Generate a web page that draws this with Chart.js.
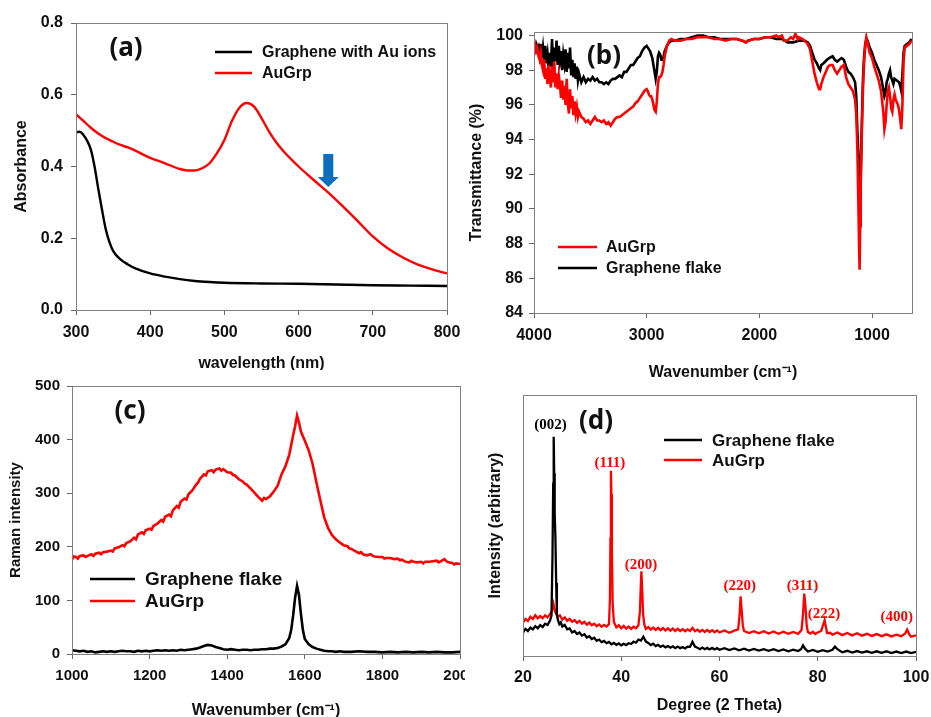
<!DOCTYPE html>
<html>
<head>
<meta charset="utf-8">
<script src="https://cdn.jsdelivr.net/npm/chart.js@4.4.1/dist/chart.umd.min.js"></script>
<style>
html, body { margin: 0; padding: 0; background: #fff; overflow: hidden; width: 931px; height: 717px; }
canvas { position: absolute; background: #fff; }
</style>
</head>
<body>
<canvas id="pa" width="465" height="376" style="left:0;top:0"></canvas>
<canvas id="pb" width="466" height="390" style="left:465px;top:0"></canvas>
<canvas id="pc" width="465" height="360" style="left:0;top:370px"></canvas>
<canvas id="pd" width="466" height="327" style="left:465px;top:390px"></canvas>
<script>
// (a) UV-vis absorbance, [wavelength nm, absorbance]
const aGraphene = [[300,0.495],[305,0.497],[310,0.488],[315,0.472],[320,0.447],[325,0.400],[330,0.338],[335,0.280],[340,0.226],[345,0.190],[350,0.165],[360,0.141],[370,0.127],[380,0.116],[400,0.102],[420,0.093],[440,0.086],[460,0.081],[480,0.078],[500,0.076],[550,0.074],[600,0.073],[650,0.071],[700,0.069],[750,0.068],[800,0.067]];
const aAuGrp = [[300,0.546],[310,0.527],[320,0.508],[330,0.492],[340,0.479],[350,0.469],[360,0.460],[370,0.453],[380,0.444],[400,0.424],[420,0.409],[440,0.393],[450,0.389],[460,0.389],[470,0.395],[480,0.409],[490,0.437],[500,0.474],[510,0.526],[520,0.563],[530,0.577],[540,0.567],[550,0.535],[560,0.498],[570,0.467],[580,0.442],[600,0.400],[620,0.363],[640,0.327],[660,0.288],[680,0.247],[700,0.205],[720,0.172],[740,0.147],[760,0.127],[780,0.113],[800,0.102]];
const aXTicks = [300, 400, 500, 600, 700, 800];
const aYTicks = [0, 0.2, 0.4, 0.6, 0.8];
const aArrow = { x: 640, top: 0.435, base: 0.371, tip: 0.343 };

// (b) FTIR transmittance, [wavenumber, %]
const bGraphene = [[4000,99.6],[3990,99.2],[3980,99.5],[3970,99.3],[3960,99.4],[3950,98.9],[3940,99.5],[3930,98.7],[3920,99.3],[3910,98.6],[3900,99.4],[3890,98.4],[3880,98.9],[3870,98.0],[3860,99.0],[3850,98.2],[3840,99.8],[3830,98.1],[3820,99.3],[3810,98.5],[3800,99.7],[3790,98.3],[3780,99.4],[3770,98.6],[3760,99.1],[3750,98.0],[3740,98.9],[3730,98.4],[3720,99.2],[3710,97.9],[3700,99.0],[3690,98.1],[3680,99.3],[3670,97.7],[3660,98.6],[3650,97.6],[3640,98.4],[3630,97.5],[3620,98.2],[3610,97.4],[3600,97.8],[3580,97.3],[3560,97.6],[3540,97.3],[3520,97.5],[3500,97.4],[3480,97.6],[3460,97.4],[3440,97.5],[3420,97.3],[3400,97.3],[3380,97.2],[3360,97.3],[3340,97.2],[3320,97.4],[3300,97.5],[3280,97.5],[3260,97.6],[3240,97.7],[3220,97.6],[3200,97.9],[3180,97.9],[3160,98.1],[3140,98.3],[3120,98.3],[3100,98.5],[3080,98.7],[3060,98.8],[3040,99.1],[3020,99.3],[3000,99.4],[2990,99.3],[2980,99.2],[2970,99.1],[2960,98.9],[2950,98.7],[2940,98.3],[2930,97.9],[2920,97.5],[2910,97.9],[2900,98.8],[2890,99.0],[2880,98.9],[2870,98.6],[2860,98.6],[2850,98.8],[2840,99.1],[2820,99.4],[2800,99.6],[2780,99.7],[2750,99.7],[2700,99.8],[2650,99.8],[2600,99.9],[2550,100.0],[2500,100.0],[2450,99.9],[2400,99.9],[2350,99.8],[2300,99.8],[2250,99.8],[2200,99.8],[2150,99.7],[2120,99.6],[2100,99.7],[2050,99.8],[2000,99.8],[1950,99.9],[1900,99.9],[1850,99.8],[1800,99.8],[1750,99.6],[1700,99.6],[1650,99.7],[1600,99.7],[1570,99.6],[1550,99.4],[1530,99.0],[1510,98.6],[1490,98.4],[1470,98.1],[1460,98.0],[1450,98.3],[1430,98.4],[1400,98.6],[1380,98.7],[1350,98.8],[1330,98.6],[1310,98.5],[1290,98.6],[1270,98.7],[1250,98.6],[1230,98.2],[1210,97.9],[1190,97.8],[1170,97.6],[1150,97.3],[1140,96.5],[1130,94.5],[1120,93.0],[1110,91.5],[1105,90.9],[1100,92.0],[1090,95.0],[1080,97.5],[1070,98.8],[1060,99.5],[1050,99.8],[1040,99.7],[1020,99.3],[1000,99.0],[980,98.6],[960,98.3],[940,98.0],[920,97.6],[900,96.9],[890,96.5],[880,96.7],[870,97.3],[860,97.5],[850,97.8],[840,98.0],[830,97.6],[820,97.4],[810,97.2],[800,97.5],[780,97.4],[760,97.3],[750,97.1],[740,96.8],[730,97.8],[720,99.0],[710,99.4],[690,99.5],[670,99.6],[650,99.8]];
const bAuGrp = [[4000,99.8],[3990,99.4],[3980,99.1],[3970,99.3],[3960,98.8],[3950,98.6],[3940,99.0],[3930,98.3],[3920,98.0],[3910,98.6],[3900,97.5],[3890,98.1],[3880,97.2],[3870,98.3],[3860,97.6],[3850,97.0],[3840,98.2],[3830,97.3],[3820,98.5],[3810,97.0],[3800,97.8],[3790,96.9],[3780,97.7],[3770,97.2],[3760,96.4],[3750,97.4],[3740,96.3],[3730,97.1],[3720,96.0],[3710,97.5],[3700,96.1],[3690,95.5],[3680,96.9],[3670,95.8],[3660,96.5],[3650,95.4],[3640,96.2],[3630,95.5],[3620,95.9],[3610,95.3],[3600,95.6],[3580,95.3],[3560,95.2],[3540,95.0],[3520,95.1],[3500,94.9],[3480,95.1],[3460,95.3],[3440,95.1],[3420,95.1],[3400,95.0],[3380,95.1],[3360,94.9],[3340,95.0],[3320,94.8],[3300,95.0],[3280,95.2],[3260,95.3],[3240,95.3],[3220,95.4],[3200,95.5],[3180,95.6],[3160,95.7],[3140,95.8],[3120,95.9],[3100,96.1],[3080,96.2],[3060,96.4],[3040,96.6],[3020,96.8],[3000,96.9],[2990,96.8],[2980,96.6],[2970,96.5],[2960,96.5],[2950,96.3],[2940,96.0],[2930,95.7],[2920,95.6],[2910,96.2],[2900,97.2],[2890,97.6],[2880,97.6],[2870,97.7],[2860,97.9],[2850,98.3],[2840,98.8],[2820,99.4],[2800,99.7],[2780,99.8],[2750,99.7],[2700,99.7],[2650,99.8],[2600,99.8],[2550,99.9],[2500,99.9],[2450,99.9],[2400,99.8],[2350,99.8],[2300,99.7],[2250,99.8],[2200,99.8],[2150,99.7],[2120,99.6],[2100,99.7],[2050,99.8],[2000,99.8],[1950,99.9],[1900,99.9],[1850,100.0],[1830,99.9],[1800,100.0],[1780,99.7],[1750,99.7],[1720,99.9],[1700,99.8],[1680,100.1],[1660,99.8],[1650,99.9],[1620,99.8],[1600,99.7],[1570,99.5],[1550,99.2],[1530,98.5],[1510,97.8],[1490,97.3],[1470,96.9],[1460,96.9],[1450,97.2],[1430,97.6],[1410,97.9],[1390,98.2],[1370,98.3],[1350,98.3],[1330,98.0],[1310,97.8],[1290,98.0],[1270,98.2],[1250,98.3],[1230,97.6],[1210,97.2],[1190,97.0],[1170,96.8],[1150,96.3],[1140,95.5],[1130,93.5],[1120,90.0],[1115,88.0],[1110,86.5],[1105,89.0],[1100,91.5],[1090,94.5],[1080,97.0],[1070,98.5],[1060,99.4],[1050,99.9],[1040,99.6],[1020,99.0],[1000,98.7],[980,98.2],[960,97.8],[940,97.4],[920,96.8],[900,95.6],[890,94.6],[880,95.0],[870,96.0],[860,96.8],[850,97.0],[840,96.5],[830,95.8],[820,95.6],[810,96.3],[800,96.6],[790,96.3],[770,96.0],[760,95.7],[750,95.2],[740,94.6],[730,96.0],[720,98.5],[710,99.3],[690,99.4],[670,99.5],[650,99.7]];
const bXTicks = [4000, 3000, 2000, 1000];
const bYTicks = [84, 86, 88, 90, 92, 94, 96, 98, 100];

// (c) Raman, [wavenumber, intensity]
const cGraphene = [[1000,7],[1010,6],[1020,5],[1030,6],[1040,4],[1050,5],[1060,3],[1070,4],[1080,5],[1090,4],[1100,5],[1110,4],[1120,5],[1130,6],[1140,5],[1150,5],[1160,4],[1170,6],[1180,5],[1190,6],[1200,5],[1210,6],[1220,7],[1230,6],[1240,7],[1250,6],[1260,7],[1270,6],[1280,8],[1290,7],[1300,8],[1310,9],[1320,10],[1330,12],[1340,15],[1350,17],[1360,16],[1370,13],[1380,11],[1390,9],[1400,8],[1410,9],[1420,8],[1430,7],[1440,8],[1450,8],[1460,7],[1470,8],[1480,8],[1490,9],[1500,9],[1510,10],[1520,10],[1530,11],[1540,14],[1550,18],[1560,30],[1565,45],[1570,72],[1575,105],[1580,127],[1585,110],[1590,75],[1595,45],[1600,28],[1610,18],[1620,13],[1630,10],[1640,8],[1650,6],[1660,5],[1670,5],[1680,4],[1690,5],[1700,4],[1720,4],[1740,5],[1760,4],[1780,4],[1800,3],[1820,4],[1840,3],[1860,4],[1880,3],[1900,4],[1920,3],[1940,4],[1960,3],[1980,3],[2000,4]];
const cAuGrp = [[1000,176],[1005,182],[1010,181],[1015,178],[1020,183],[1030,184],[1035,181],[1040,183],[1050,186],[1055,183],[1060,187],[1070,189],[1075,186],[1080,190],[1090,191],[1100,193],[1105,191],[1110,197],[1120,199],[1130,203],[1135,201],[1140,207],[1150,210],[1160,217],[1165,214],[1170,223],[1180,227],[1185,224],[1190,231],[1200,234],[1205,232],[1210,239],[1220,243],[1230,250],[1235,247],[1240,256],[1250,260],[1255,257],[1260,268],[1270,276],[1275,273],[1280,284],[1290,290],[1295,288],[1300,298],[1310,305],[1320,316],[1325,320],[1330,327],[1340,335],[1345,333],[1350,341],[1360,343],[1365,339],[1370,344],[1380,346],[1385,342],[1390,345],[1400,339],[1410,338],[1415,334],[1420,333],[1430,326],[1440,322],[1445,318],[1450,316],[1460,309],[1470,301],[1475,297],[1480,293],[1490,286],[1495,291],[1500,289],[1510,294],[1520,303],[1530,314],[1540,335],[1550,350],[1560,372],[1570,408],[1575,425],[1580,445],[1585,432],[1590,415],[1600,398],[1610,380],[1620,355],[1630,320],[1640,287],[1650,255],[1660,235],[1670,222],[1680,214],[1690,208],[1700,203],[1710,201],[1715,197],[1720,196],[1730,192],[1740,188],[1745,190],[1750,186],[1760,184],[1770,186],[1775,183],[1780,182],[1790,181],[1800,181],[1805,178],[1810,179],[1820,179],[1830,177],[1840,178],[1845,175],[1850,176],[1860,172],[1870,171],[1875,174],[1880,172],[1890,171],[1900,172],[1905,169],[1910,172],[1920,172],[1930,173],[1940,174],[1945,171],[1950,173],[1960,177],[1965,173],[1970,171],[1980,170],[1985,167],[1990,169],[2000,168]];
const cXTicks = [1000, 1200, 1400, 1600, 1800, 2000];
const cYTicks = [0, 100, 200, 300, 400, 500];

// (d) XRD, [2 theta, intensity in arbitrary units 0-100]
const dGraphene = [[20,9.0],[20.5,10.4],[21,9.6],[21.5,10.9],[22,10.2],[22.5,11.4],[23,10.6],[23.5,11.8],[24,11.1],[24.5,12.4],[25,11.9],[25.5,13.6],[25.8,15.5],[26,38],[26.15,66],[26.25,84],[26.35,70],[26.45,55],[26.6,45],[26.75,28],[26.9,16],[27.1,13.8],[27.4,12.2],[27.7,12.9],[28,11.3],[28.5,11.9],[29,10.2],[29.5,10.6],[30,9.0],[30.5,9.6],[31,8.4],[31.5,9.0],[32,7.8],[32.5,8.3],[33,7.1],[33.5,7.6],[34,6.5],[34.5,7.0],[35,5.8],[35.5,6.3],[36,5.3],[36.5,5.8],[37,4.9],[37.5,5.4],[38,4.5],[38.5,5.0],[39,4.3],[39.5,4.8],[40,4.1],[40.5,4.7],[41,4.2],[41.5,4.9],[42,4.6],[42.5,5.5],[43,5.1],[43.5,6.3],[44,5.9],[44.5,7.4],[45,5.6],[45.5,5.0],[46,4.2],[46.5,4.7],[47,3.8],[47.5,4.3],[48,3.5],[48.5,4.0],[49,3.3],[49.5,3.8],[50,3.2],[50.5,3.7],[51,3.0],[51.5,3.6],[52,3.0],[52.5,3.4],[53,2.9],[53.5,3.6],[54,3.5],[54.5,5.4],[55,3.6],[55.5,3.2],[56,2.6],[56.5,3.2],[57,2.6],[57.5,3.1],[58,2.5],[58.5,3.1],[59,2.5],[59.5,3.0],[60,2.4],[61,3.0],[62,2.3],[63,2.9],[64,2.2],[65,2.8],[66,2.1],[67,2.7],[68,2.1],[69,2.6],[70,2.0],[71,2.6],[72,1.9],[73,2.5],[74,1.8],[75,2.4],[76,1.9],[76.6,2.6],[77,4.1],[77.4,2.8],[78,1.7],[79,2.3],[80,1.6],[81,2.2],[82,1.7],[83,2.4],[83.5,3.6],[84,2.6],[85,1.4],[86,2.0],[87,1.3],[88,1.9],[89,1.3],[90,1.8],[91,1.2],[92,1.8],[93,1.2],[94,1.8],[95,1.1],[96,1.7],[97,1.1],[98,1.7],[99,1.1],[100,1.6]];
const dAuGrp = [[20,12.8],[20.5,14.2],[21,13.4],[21.5,15.0],[22,14.2],[22.5,15.6],[23,14.4],[23.5,15.3],[24,14.5],[24.5,15.6],[25,14.8],[25.5,16.0],[25.9,17.4],[26.2,20.0],[26.5,17.2],[26.8,16.0],[27,15.0],[27.5,15.6],[28,14.0],[28.5,14.8],[29,13.5],[29.5,14.2],[30,13.1],[30.5,13.8],[31,12.7],[31.5,13.5],[32,12.4],[32.5,13.1],[33,12.0],[33.5,12.8],[34,11.8],[34.5,12.4],[35,11.4],[35.5,12.1],[36,11.2],[36.5,11.9],[37,11.3],[37.5,12.2],[37.7,22],[37.8,45],[37.9,71],[38.0,62],[38.1,40],[38.25,20],[38.5,13.0],[39,11.0],[39.5,11.8],[40,10.6],[40.5,11.5],[41,10.5],[41.5,11.3],[42,10.4],[42.5,11.2],[43,10.6],[43.5,11.8],[43.8,17],[44.0,28],[44.1,32.5],[44.25,26],[44.45,16],[44.7,12],[45,10.4],[45.5,11.1],[46,10.1],[46.5,10.9],[47,10.0],[47.5,10.8],[48,9.9],[48.5,10.7],[49,9.8],[49.5,10.6],[50,9.7],[50.5,10.5],[51,9.6],[51.5,10.4],[52,9.6],[52.5,10.3],[53,9.5],[53.5,10.2],[54,9.6],[54.5,10.8],[55,9.5],[55.5,10.1],[56,9.3],[56.5,10.0],[57,9.2],[57.5,10.0],[58,9.2],[58.5,9.9],[59,9.1],[59.5,9.8],[60,9.0],[61,9.8],[62,8.9],[63,9.7],[63.8,10.2],[64.1,16],[64.3,22.9],[64.5,18],[64.75,11.5],[65,9.6],[66,8.8],[67,9.5],[68,8.7],[69,9.5],[70,8.6],[71,9.4],[72,8.5],[73,9.3],[74,8.5],[75,9.2],[76,8.5],[76.7,10.0],[77.0,16],[77.25,23.9],[77.5,19],[77.75,11.5],[78,9.2],[78.5,8.6],[79,9.3],[79.5,8.4],[80,9.0],[80.7,9.6],[81.2,12.5],[81.4,13.7],[81.6,11.8],[81.9,8.8],[82.5,8.9],[83,8.2],[84,9.0],[85,8.0],[86,8.8],[87,7.9],[88,8.7],[89,7.8],[90,8.5],[91,7.7],[92,8.4],[93,7.6],[94,8.3],[95,7.5],[96,8.2],[97,7.6],[97.8,8.6],[98.2,10.1],[98.6,8.4],[99,7.4],[100,7.9]];
const dXTicks = [20, 40, 60, 80, 100];
const dPeakLabels = ['(002)', '(111)', '(200)', '(220)', '(311)', '(222)', '(400)'];
const dPeakX = [25.6, 37.7, 44.0, 64.1, 76.9, 81.25, 96.1];
const dPeakY = [88.5, 74, 34.8, 26.7, 26.7, 15.9, 15];
const dPeakColors = ['#000', 'red', 'red', 'red', 'red', 'red', 'red'];

const FONT = '"Liberation Sans", Arial, sans-serif';
const RED = '#ff0000', BLACK = '#000000';

const extras = {
  id: 'extras',
  afterDraw(chart, args, o) {
    const {ctx, chartArea: ca} = chart;
    ctx.save();
    // frame
    ctx.strokeStyle = '#808080';
    ctx.lineWidth = 1;
    ctx.strokeRect(Math.round(ca.left) + 0.5, Math.round(ca.top) + 0.5, Math.round(ca.right - ca.left), Math.round(ca.bottom - ca.top));
    // panel letter
    ctx.fillStyle = '#111';
    ctx.font = 'bold 26px "Noto Sans", "Open Sans", sans-serif';
    ctx.textAlign = 'center';
    ctx.textBaseline = 'middle';
    ctx.fillText(o.letter, ca.left + o.letterX, ca.top + o.letterY);
    // legend inside the plot
    const lg = o.legend;
    ctx.font = 'bold ' + lg.size + 'px ' + FONT;
    ctx.textAlign = 'left';
    lg.order.forEach((i, k) => {
      const ds = chart.data.datasets[i];
      const x = ca.left + lg.x, y = ca.top + lg.y + k * lg.rowH;
      ctx.strokeStyle = ds.borderColor;
      ctx.lineWidth = 2.5;
      ctx.beginPath();
      ctx.moveTo(x, y);
      ctx.lineTo(x + lg.len, y);
      ctx.stroke();
      ctx.fillStyle = '#111';
      ctx.fillText(ds.label, x + lg.len + lg.gap, y + 1);
    });
    ctx.restore();
  }
};

const arrow = {
  id: 'arrow',
  afterDatasetsDraw(chart, args, o) {
    if (!o.at) return;
    const {ctx, scales: {x, y}} = chart;
    const cx = x.getPixelForValue(o.at.x);
    const yt = y.getPixelForValue(o.at.top), yb = y.getPixelForValue(o.at.base), yp = y.getPixelForValue(o.at.tip);
    ctx.save();
    ctx.fillStyle = '#0a6fc2';
    ctx.beginPath();
    ctx.moveTo(cx - 5, yt); ctx.lineTo(cx + 5, yt); ctx.lineTo(cx + 5, yb);
    ctx.lineTo(cx + 10.5, yb); ctx.lineTo(cx, yp); ctx.lineTo(cx - 10.5, yb);
    ctx.lineTo(cx - 5, yb); ctx.closePath();
    ctx.fill();
    ctx.restore();
  }
};

const peaks = {
  id: 'peaks',
  afterDatasetsDraw(chart, args, o) {
    if (!o.labels) return;
    const {ctx, scales: {x, y}} = chart;
    ctx.save();
    ctx.font = 'bold 15px "Liberation Serif", "Times New Roman", serif';
    ctx.textAlign = 'center';
    ctx.textBaseline = 'middle';
    o.labels.forEach((t, i) => {
      ctx.fillStyle = o.colors[i];
      ctx.fillText(t, x.getPixelForValue(o.xs[i]), y.getPixelForValue(o.ys[i]));
    });
    ctx.restore();
  }
};

function axis(o) {
  const hasTicks = o.ticks.length > 0;
  return {
    type: 'linear', min: o.min, max: o.max, reverse: !!o.reverse,
    afterBuildTicks: s => { s.ticks = o.ticks.map(v => ({value: v})); },
    afterFit: s => {
      if (o.w) s.width = o.w;
      if (o.h) s.height = o.h;
      // keep the plot box where the layout padding puts it
      s.paddingLeft = s.paddingRight = s.paddingTop = s.paddingBottom = 0;
    },
    ticks: {
      display: hasTicks, autoSkip: false, maxRotation: 0, padding: o.pad, color: '#111',
      font: {family: FONT, size: o.fs, weight: 'bold'},
      callback: o.fmt || (v => String(v))
    },
    grid: {drawOnChartArea: false, drawTicks: hasTicks, tickLength: 5, color: '#666'},
    border: {display: false},
    title: {
      display: true, text: o.title, color: '#111',
      font: {family: FONT, size: o.tfs, weight: 'bold'},
      padding: {top: o.tpad, bottom: o.tpad}
    }
  };
}

function series(label, pts, color, width, smooth) {
  return {
    label: label,
    data: pts.map(p => ({x: p[0], y: p[1]})),
    borderColor: color, borderWidth: width, pointRadius: 0,
    tension: smooth ? 0.4 : 0, cubicInterpolationMode: smooth ? 'monotone' : 'default'
  };
}

function panel(id, datasets, x, y, padding, plug) {
  return new Chart(document.getElementById(id), {
    type: 'line',
    data: {datasets: datasets},
    options: {
      responsive: false, animation: false, devicePixelRatio: 1,
      layout: {padding: padding},
      scales: {x: axis(x), y: axis(y)},
      plugins: Object.assign({legend: {display: false}, tooltip: {enabled: false}}, plug)
    },
    plugins: [extras, arrow, peaks]
  });
}

panel('pa',
  [series('Graphene with Au ions', aGraphene, BLACK, 2.4, true), series('AuGrp', aAuGrp, RED, 2.4, true)],
  {min: 300, max: 800, ticks: aXTicks, fs: 16, pad: 8, h: 66, title: 'wavelength (nm)', tfs: 16, tpad: 3},
  {min: 0, max: 0.8, ticks: aYTicks, fs: 16, pad: 8, w: 76, title: 'Absorbance', tfs: 16, tpad: 12, fmt: v => v.toFixed(1)},
  {top: 23, right: 18, left: 0, bottom: 0},
  {extras: {letter: '(a)', letterX: 50, letterY: 26, legend: {order: [0, 1], x: 139, y: 29, rowH: 21, len: 37, gap: 10, size: 16}},
   arrow: {at: aArrow}});

panel('pb',
  [series('AuGrp', bAuGrp, RED, 2.6, false), series('Graphene flake', bGraphene, BLACK, 2.6, false)],
  {min: 645, max: 4000, reverse: true, ticks: bXTicks, fs: 16, pad: 8, h: 77, title: 'Wavenumber (cm\u207B\u00B9)', tfs: 16, tpad: 8},
  {min: 84, max: 100.2, ticks: bYTicks, fs: 16, pad: 6, w: 69, title: 'Transmittance (%)', tfs: 16, tpad: 2},
  {top: 32, right: 19, left: 0, bottom: 0},
  {extras: {letter: '(b)', letterX: 70, letterY: 25, legend: {order: [0, 1], x: 24, y: 215, rowH: 21, len: 39, gap: 9, size: 16}}});

panel('pc',
  [series('Graphene flake', cGraphene, BLACK, 2.6, false), series('AuGrp', cAuGrp, RED, 2.6, false)],
  {min: 1000, max: 2000, ticks: cXTicks, fs: 15, pad: 8, h: 76, title: 'Wavenumber (cm\u207B\u00B9)', tfs: 16, tpad: 10},
  {min: 0, max: 500, ticks: cYTicks, fs: 15, pad: 7, w: 72, title: 'Raman intensity', tfs: 15, tpad: 7},
  {top: 16, right: 5, left: 0, bottom: 0},
  {extras: {letter: '(c)', letterX: 58, letterY: 26, legend: {order: [0, 1], x: 18, y: 193, rowH: 22, len: 45, gap: 10, size: 19}}});

panel('pd',
  [series('Graphene flake', dGraphene, BLACK, 2.3, false), series('AuGrp', dAuGrp, RED, 2.3, false)],
  {min: 20, max: 100, ticks: dXTicks, fs: 16, pad: 7, h: 61, title: 'Degree (2 Theta)', tfs: 16, tpad: 2},
  {min: 0, max: 100, ticks: [], fs: 16, pad: 0, w: 58, title: 'Intensity (arbitrary)', tfs: 16, tpad: 21},
  {top: 5, right: 15, left: 0, bottom: 0},
  {extras: {letter: '(d)', letterX: 73, letterY: 27, legend: {order: [0, 1], x: 141, y: 45, rowH: 20, len: 38, gap: 10, size: 17}},
   peaks: {labels: dPeakLabels, xs: dPeakX, ys: dPeakY, colors: dPeakColors}});
</script>
</body>
</html>
